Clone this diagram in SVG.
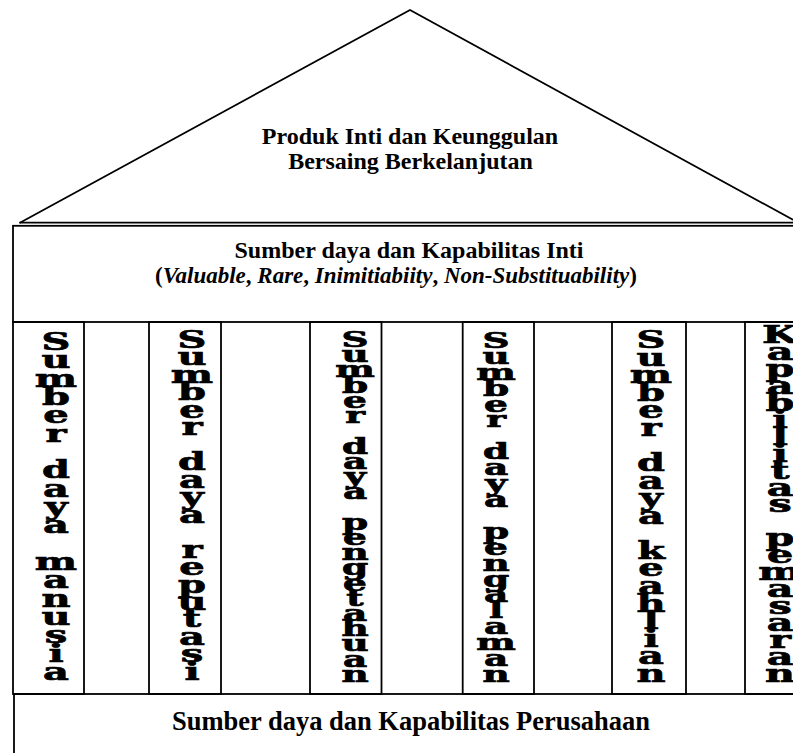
<svg xmlns="http://www.w3.org/2000/svg" width="793" height="753" viewBox="0 0 793 753">
<style>
.ln{fill:none;stroke:#000;stroke-width:1.8}
.t{font-family:"Liberation Serif","Times New Roman",serif;font-weight:bold;text-anchor:middle;fill:#000}
.pl{font-family:"DejaVu Serif",serif;font-weight:bold;font-size:25px;text-anchor:middle;fill:#000;stroke:#000;stroke-width:0.7}
.sm{font-size:22px}
</style>
<rect width="793" height="753" fill="#fff"/>
<g id="roof">
<polyline class="ln" points="19.5,223 410,10 797,222"/>
<line class="ln" x1="19.5" y1="222.6" x2="800" y2="222.6"/>
<text class="t" x="410" y="144" font-size="24">Produk Inti dan Keunggulan</text>
<text class="t" x="410.5" y="169" font-size="24">Bersaing Berkelanjutan</text>
</g>
<g id="core">
<rect class="ln" x="13" y="225.8" width="800" height="96.2"/>
<text class="t" x="409" y="258" font-size="24">Sumber daya dan Kapabilitas Inti</text>
<text class="t" x="396" y="283" font-size="23">(<tspan font-style="italic">Valuable</tspan>, <tspan font-style="italic">Rare</tspan>, <tspan font-style="italic">Inimitiabiity</tspan>, <tspan font-style="italic">Non-Substituability</tspan>)</text>
</g>
<g id="base">
<rect class="ln" x="14" y="694" width="800" height="80"/>
<text class="t" x="411" y="730" font-size="26.5">Sumber daya dan Kapabilitas Perusahaan</text>
</g>
<g id="pillar1">
<rect class="ln" x="13" y="322" width="71" height="372"/>
<text class="pl" transform="translate(56,0) scale(1.6,1)"><tspan x="0" y="350">S</tspan><tspan x="0" y="368.3">u</tspan><tspan x="0" y="386.7">m</tspan><tspan x="0" y="405">b</tspan><tspan x="0" y="423.3">e</tspan><tspan x="0" y="441.7">r</tspan><tspan x="0" y="478.3">d</tspan><tspan x="0" y="496.7">a</tspan><tspan x="0" y="515">y</tspan><tspan x="0" y="533.3">a</tspan><tspan x="0" y="570">m</tspan><tspan x="0" y="588.3">a</tspan><tspan x="0" y="606.7">n</tspan><tspan x="0" y="625">u</tspan><tspan x="0" y="643.3">s</tspan><tspan x="0" y="661.7">i</tspan><tspan x="0" y="680">a</tspan></text>
</g>
<g id="pillar2">
<rect class="ln" x="149" y="322" width="72" height="372"/>
<text class="pl" transform="translate(192,0) scale(1.6,1)"><tspan x="0" y="348">S</tspan><tspan x="0" y="365.5">u</tspan><tspan x="0" y="382.9">m</tspan><tspan x="0" y="400.4">b</tspan><tspan x="0" y="417.9">e</tspan><tspan x="0" y="435.4">r</tspan><tspan x="0" y="470.3">d</tspan><tspan x="0" y="487.8">a</tspan><tspan x="0" y="505.3">y</tspan><tspan x="0" y="522.7">a</tspan><tspan x="0" y="557.7">r</tspan><tspan x="0" y="575.1">e</tspan><tspan x="0" y="592.6">p</tspan><tspan x="0" y="610.1">u</tspan><tspan x="0" y="627.5">t</tspan><tspan x="0" y="645">a</tspan><tspan x="0" y="662.5">s</tspan><tspan x="0" y="680">i</tspan></text>
</g>
<g id="pillar3">
<rect class="ln" x="310" y="322" width="71.5" height="372"/>
<text class="pl sm" transform="translate(355,0) scale(1.7,1)"><tspan x="0" y="347">S</tspan><tspan x="0" y="362.2">u</tspan><tspan x="0" y="377.5">m</tspan><tspan x="0" y="392.7">b</tspan><tspan x="0" y="407.9">e</tspan><tspan x="0" y="423.1">r</tspan><tspan x="0" y="453.6">d</tspan><tspan x="0" y="468.8">a</tspan><tspan x="0" y="484">y</tspan><tspan x="0" y="499.3">a</tspan><tspan x="0" y="529.7">p</tspan><tspan x="0" y="545">e</tspan><tspan x="0" y="560.2">n</tspan><tspan x="0" y="575.4">g</tspan><tspan x="0" y="590.6">e</tspan><tspan x="0" y="605.9">t</tspan><tspan x="0" y="621.1">a</tspan><tspan x="0" y="636.3">h</tspan><tspan x="0" y="651.5">u</tspan><tspan x="0" y="666.8">a</tspan><tspan x="0" y="682">n</tspan></text>
</g>
<g id="pillar4">
<rect class="ln" x="462.7" y="322" width="71.3" height="372"/>
<text class="pl sm" transform="translate(496,0) scale(1.7,1)"><tspan x="0" y="348">S</tspan><tspan x="0" y="363.9">u</tspan><tspan x="0" y="379.8">m</tspan><tspan x="0" y="395.7">b</tspan><tspan x="0" y="411.6">e</tspan><tspan x="0" y="427.5">r</tspan><tspan x="0" y="459.3">d</tspan><tspan x="0" y="475.2">a</tspan><tspan x="0" y="491.1">y</tspan><tspan x="0" y="507">a</tspan><tspan x="0" y="538.9">p</tspan><tspan x="0" y="554.8">e</tspan><tspan x="0" y="570.7">n</tspan><tspan x="0" y="586.6">g</tspan><tspan x="0" y="602.5">a</tspan><tspan x="0" y="618.4">l</tspan><tspan x="0" y="634.3">a</tspan><tspan x="0" y="650.2">m</tspan><tspan x="0" y="666.1">a</tspan><tspan x="0" y="682">n</tspan></text>
</g>
<g id="pillar5">
<rect class="ln" x="612" y="322" width="74" height="372"/>
<text class="pl" transform="translate(651,0) scale(1.6,1)"><tspan x="0" y="348">S</tspan><tspan x="0" y="365.6">u</tspan><tspan x="0" y="383.2">m</tspan><tspan x="0" y="400.7">b</tspan><tspan x="0" y="418.3">e</tspan><tspan x="0" y="435.9">r</tspan><tspan x="0" y="471.1">d</tspan><tspan x="0" y="488.6">a</tspan><tspan x="0" y="506.2">y</tspan><tspan x="0" y="523.8">a</tspan><tspan x="0" y="559">k</tspan><tspan x="0" y="576.5">e</tspan><tspan x="0" y="594.1">a</tspan><tspan x="0" y="611.7">h</tspan><tspan x="0" y="629.3">l</tspan><tspan x="0" y="646.8">i</tspan><tspan x="0" y="664.4">a</tspan><tspan x="0" y="682">n</tspan></text>
</g>
<g id="pillar6">
<rect class="ln" x="745" y="322" width="70" height="372"/>
<text class="pl" font-size="23" transform="translate(780,0) scale(1.65,1)"><tspan x="0" y="343">K</tspan><tspan x="0" y="360">a</tspan><tspan x="0" y="376.9">p</tspan><tspan x="0" y="393.9">a</tspan><tspan x="0" y="410.8">b</tspan><tspan x="0" y="427.8">i</tspan><tspan x="0" y="444.7">l</tspan><tspan x="0" y="461.7">i</tspan><tspan x="0" y="478.6">t</tspan><tspan x="0" y="495.6">a</tspan><tspan x="0" y="512.5">s</tspan><tspan x="0" y="546.4">p</tspan><tspan x="0" y="563.4">e</tspan><tspan x="0" y="580.3">m</tspan><tspan x="0" y="597.3">a</tspan><tspan x="0" y="614.2">s</tspan><tspan x="0" y="631.2">a</tspan><tspan x="0" y="648.1">r</tspan><tspan x="0" y="665.1">a</tspan><tspan x="0" y="682">n</tspan></text>
</g>
<g id="connectors"></g>
</svg>
